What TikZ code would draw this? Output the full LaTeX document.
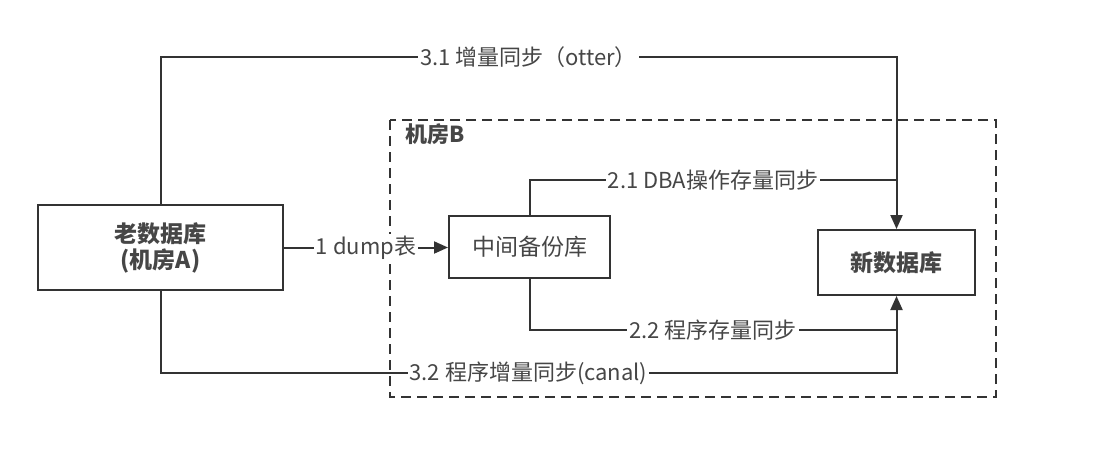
\documentclass[tikz,border=0pt]{standalone}
\usepackage{fontspec}
\setmainfont{Noto Sans CJK SC}
\usetikzlibrary{arrows.meta}
\definecolor{cline}{RGB}{51,51,51}
\definecolor{ctext}{RGB}{70,70,70}
\tikzset{migfig/.style={x=0.5pt,y=-0.5pt,font=\fontsize{11}{13}\selectfont},
  dbbox/.style={draw=cline,line width=1pt,align=center,text=ctext},
  flow/.style={draw=cline,line width=1pt},
  flowarr/.style={flow,-{Triangle[length=7pt,width=6pt]}},
  lbl/.style={fill=white,text=ctext,inner sep=1pt}}

\begin{document}
\begin{tikzpicture}[migfig]
    \useasboundingbox (0,0) rectangle (1102,471);
    % machine room B
    \draw[cline,line width=1pt,dash pattern=on 5pt off 3pt] (390,120) rectangle (996,397);
    \node[anchor=west,text=ctext,font=\fontsize{11}{13}\selectfont\bfseries] (roomb) at (398,134) {机房B};
    % databases
    \node[dbbox,minimum width=122.5pt,minimum height=42.5pt,font=\fontsize{11.5}{13}\selectfont\bfseries] (olddb) at (160.5,247.5) {老数据库\\(机房A)};
    \node[dbbox,minimum width=80.5pt,minimum height=31pt,font=\fontsize{11.5}{13}\selectfont] (midbak) at (529.5,247) {中间备份库};
    \node[dbbox,minimum width=78.5pt,minimum height=32.5pt,font=\fontsize{11.5}{13}\selectfont\bfseries] (newdb) at (896.5,262.5) {新数据库};
    \coordinate (t1) at (160.5,57);
    \coordinate (t2) at (896.5,57);
    \coordinate (b1) at (160.5,373);
    \coordinate (b2) at (896.5,373);
    \coordinate (m1) at (529.5,180);
    \coordinate (m2) at (896.5,180);
    \coordinate (n1) at (529.5,330);
    \coordinate (n2) at (896.5,330);
    % step 1
    \draw[flowarr] (olddb.east) -- node[lbl] {1 dump表} (olddb.east -| midbak.west);
    % step 2
    \draw[flow] (midbak.north) -- (m1) -- node[lbl] {2.1 DBA操作存量同步} (m2);
    \draw[flow] (midbak.south) -- (n1) -- node[lbl] {2.2 程序存量同步} (n2);
    % step 3
    \draw[flowarr] (olddb.north) -- (t1) -- node[lbl] {3.1 增量同步（otter）} (t2) -- (newdb.north);
    \draw[flowarr] (olddb.south) -- (b1) -- node[lbl] {3.2 程序增量同步(canal)} (b2) -- (newdb.south);
\end{tikzpicture}
\end{document}
